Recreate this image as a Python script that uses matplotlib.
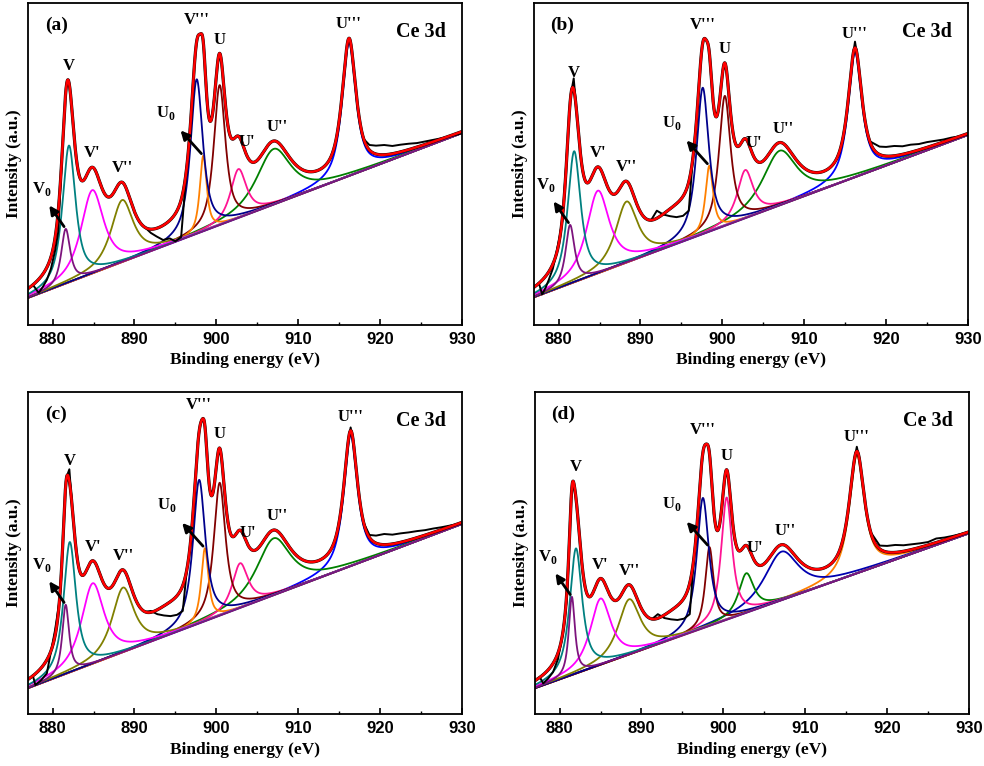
import numpy as np
import matplotlib
matplotlib.use("Agg")
import matplotlib.pyplot as plt

plt.rcParams['mathtext.fontset'] = 'custom'
plt.rcParams['mathtext.rm'] = 'Liberation Serif:bold'
plt.rcParams['mathtext.bf'] = 'Liberation Serif:bold'

# peak names, same order in every panel
names = ["V$_{\\mathrm{0}}$", "V", "V'", "V''", "V'''", "U$_{\\mathrm{0}}$", "U", "U'", "U''", "U'''"]

# fitted components: centre (eV), height above background, FWHM (eV), lorentz fraction
# extra_*: intensity of the fit envelope between V'' and V''' not covered by the drawn components
centers_a = [881.6, 882.0, 884.85, 888.5, 897.6, 898.4, 900.4, 902.7, 907.0, 916.2]
heights_a = [17.0, 42.5, 25.9, 19.3, 48.0, 23.5, 43.5, 15.2, 17.3, 41.4]
fwhm_a = [1.3, 1.9, 3.3, 3.2, 1.8, 1.0, 1.7, 2.3, 5.0, 2.0]
bg_a = [8.4, 59.6]
eta_a = 0.8
extra_a = (894.0, 1.0, 5.0)

centers_b = [881.4, 881.9, 884.8, 888.3, 897.6, 898.4, 900.3, 902.8, 907.0, 916.2]
heights_b = [18.3, 40.7, 25.7, 19.0, 45.5, 20.5, 40.4, 15.0, 17.0, 38.8]
fwhm_b = [1.3, 1.9, 3.3, 3.2, 1.8, 1.1, 1.7, 2.3, 5.0, 2.0]
bg_b = [8.6, 59.0]
eta_b = 0.85
extra_b = (894.0, 6.0, 5.5)

centers_c = [881.6, 882.1, 884.9, 888.6, 897.9, 898.6, 900.4, 902.9, 907.0, 916.4]
heights_c = [21.5, 40.5, 25.0, 20.1, 44.6, 22.7, 41.3, 13.9, 17.7, 40.7]
fwhm_c = [1.0, 1.8, 3.3, 3.2, 1.8, 1.05, 1.7, 2.3, 5.0, 2.0]
bg_c = [8.0, 59.0]
eta_c = 0.85
extra_c = (894.0, 4.0, 5.0)

centers_d = [881.5, 882.0, 885.0, 888.5, 897.5, 898.3, 900.4, 902.8, 907.1, 916.3]
heights_d = [24.3, 38.9, 20.6, 17.2, 40.5, 24.5, 38.0, 12.3, 15.1, 36.7]
fwhm_d = [0.9, 1.8, 3.0, 3.2, 1.75, 1.2, 1.6, 2.2, 5.0, 2.2]
bg_d = [8.0, 56.1]
eta_d = 0.85
extra_d = (894.0, 4.0, 5.0)

# raw spectrum where it departs from the fit: low-energy edge, valley, high-energy tail,
# and peak tips poking above the fit
raw_lo_a = ([878.3, 878.8, 879.3, 879.8, 880.3, 880.7], [10.0, 11.8, 14.0, 17.5, 23.0, 29.0])
raw_mid_a = ([892.0, 892.7, 893.5, 894.3, 895.0, 895.7], [28.6, 27.5, 26.4, 26.9, 26.0, 27.3])
raw_hi_a = ([918.7, 919.5, 920.5, 921.5, 922.5, 923.5, 924.5, 925.5, 926.5, 927.5, 928.5, 929.5, 930.0],
            [55.9, 55.7, 55.9, 55.6, 56.0, 56.3, 56.5, 57.0, 57.5, 58.0, 58.6, 59.2, 59.6])
raw_tips_a = []

raw_lo_b = ([878.0, 878.4, 878.8, 879.3, 879.7, 880.1, 880.5], [9.5, 11.5, 14.0, 17.5, 22.0, 27.0, 33.0])
raw_mid_b = ([892.0, 892.8, 893.6, 894.4, 895.2, 895.9], [35.5, 34.3, 33.8, 33.5, 33.9, 35.5])
raw_hi_b = ([919.2, 920.0, 921.0, 922.0, 923.0, 924.0, 925.0, 926.0, 927.0, 928.0, 929.0, 930.0],
            [55.4, 55.3, 55.6, 55.5, 56.0, 56.2, 56.8, 57.2, 57.6, 58.2, 58.6, 59.2])
raw_tips_b = [(881.85, 76.6), (916.2, 88.0)]

raw_lo_c = ([877.9, 878.6, 879.3, 879.7, 880.3, 880.9], [9.0, 10.5, 12.6, 18.0, 26.0, 36.0])
raw_mid_c = ([892.0, 892.8, 893.6, 894.4, 895.2, 895.9], [32.0, 31.0, 30.6, 30.4, 30.8, 32.0])
raw_hi_c = ([918.7, 919.5, 920.5, 921.5, 922.5, 923.5, 924.5, 925.5, 926.5, 927.5, 928.5, 929.5, 930.0],
            [55.6, 55.4, 55.9, 55.7, 56.1, 56.4, 56.8, 57.1, 57.6, 58.0, 58.5, 59.0, 59.3])
raw_tips_c = [(882.05, 76.0), (916.4, 89.0)]

raw_lo_d = ([878.0, 878.6, 879.2, 879.8, 880.4, 880.9], [9.5, 11.0, 13.0, 17.0, 25.0, 36.0])
raw_mid_d = ([892.0, 892.8, 893.6, 894.4, 895.2, 895.9], [31.0, 29.8, 29.4, 29.2, 29.6, 31.0])
raw_hi_d = ([919.1, 920.0, 921.0, 922.0, 923.0, 924.0, 925.0, 926.0, 927.0, 928.0, 929.0, 930.0],
            [52.3, 52.2, 52.5, 52.4, 52.7, 53.0, 53.4, 54.5, 54.8, 55.3, 55.9, 56.6])
raw_tips_d = [(916.3, 83.0)]

colors_abc = ['#7d147d', '#008080', '#ff00ff', '#808000', '#00008b',
              '#ff8000', '#800000', '#ff1493', '#008000', '#0000ff']
colors_d = ['#7d147d', '#008080', '#ff00ff', '#808000', '#00008b',
            '#800000', '#ff1493', '#008000', '#0000b0', '#ff8000']

panels = [
    ("(a)", centers_a, heights_a, fwhm_a, bg_a, eta_a, extra_a,
     [raw_lo_a, raw_mid_a, raw_hi_a], raw_tips_a, colors_abc),
    ("(b)", centers_b, heights_b, fwhm_b, bg_b, eta_b, extra_b,
     [raw_lo_b, raw_mid_b, raw_hi_b], raw_tips_b, colors_abc),
    ("(c)", centers_c, heights_c, fwhm_c, bg_c, eta_c, extra_c,
     [raw_lo_c, raw_mid_c, raw_hi_c], raw_tips_c, colors_abc),
    ("(d)", centers_d, heights_d, fwhm_d, bg_d, eta_d, extra_d,
     [raw_lo_d, raw_mid_d, raw_hi_d], raw_tips_d, colors_d),
]

E0, E1 = 877, 930


def pseudo_voigt(x, c, h, w, eta):
    d = (x - c) / w
    return h * (eta / (1 + 4 * d ** 2) + (1 - eta) * np.exp(-4 * np.log(2) * d ** 2))


def background(x, bg):
    return bg[0] + (bg[1] - bg[0]) * (x - E0) / (E1 - E0)


serif = 'Liberation Serif'
sans = 'Liberation Sans'

fig = plt.figure(figsize=(9.84, 7.66), dpi=100)
rects = [
    [28 / 984, 1 - 325 / 766, 434 / 984, 322 / 766],
    [534 / 984, 1 - 325 / 766, 434 / 984, 322 / 766],
    [28 / 984, 1 - 714 / 766, 434 / 984, 322 / 766],
    [535 / 984, 1 - 714 / 766, 434 / 984, 322 / 766],
]

x = np.linspace(E0, E1, 2651)

for rect, (tag, cen, hgt, fw, bg, eta, extra, raw, tips, cols) in zip(rects, panels):
    ax = fig.add_axes(rect)
    base = background(x, bg)
    comps = [pseudo_voigt(x, c, h, w, eta) for c, h, w in zip(cen, hgt, fw)]
    env = base + np.sum(comps, axis=0) + pseudo_voigt(x, extra[0], extra[1], extra[2], 0.0)

    def env_at(e):
        return np.interp(e, x, env)

    def env_top(e):
        m = np.abs(x - e) < 0.6
        return env[m].max()

    for comp, col in reversed(list(zip(comps, cols))):
        ax.plot(x, base + comp, color=col, lw=1.3)

    # raw spectrum: follows the fit, plus the parts where it departs
    ax.plot(x, env, color='black', lw=2.3)
    seg_ends = [(877.6, 881.1), (891.3, 896.4), (918.0, None)]
    for (re, ri), (s0, s1) in zip(raw, seg_ends):
        ex = [s0] + list(re)
        ey = [env_at(s0)] + list(ri)
        if s1 is not None:
            ex.append(s1)
            ey.append(env_at(s1))
        ax.plot(ex, ey, color='black', lw=1.4)
    for te, ti in tips:
        ax.plot([te - 0.3, te, te + 0.3], [env_at(te - 0.3), ti, env_at(te + 0.3)],
                color='black', lw=1.4)

    ax.plot(x, env, color='#ff0000', lw=1.8)

    # peak labels
    lab_kw = dict(fontfamily=serif, fontweight='bold', fontsize=12, ha='center', va='bottom')
    for i in [1, 2, 3, 4, 6, 9]:
        ax.text(cen[i], env_top(cen[i]) + 1.8, names[i], **lab_kw)
    ax.text(cen[7] + 1.0, env_at(cen[7] + 1.0) + 1.5, names[7], **lab_kw)
    ax.text(cen[8] + 0.4, env_top(cen[8] + 0.4) + 1.8, names[8], **lab_kw)

    # arrows for V0 and U0
    for i, dx, dy, lx, ly in [(0, -2.2, 8.0, -0.7, 1.5), (5, -3.0, 8.5, -1.6, 2.0)]:
        top = background(cen[i], bg) + hgt[i]
        head = (cen[i] + dx, top + dy)
        ax.annotate('', xy=head, xytext=(cen[i], top),
                    arrowprops=dict(arrowstyle='-|>', color='black', lw=2.0, mutation_scale=13))
        ax.text(head[0] + lx, head[1] + ly, names[i], **lab_kw)

    ax.text(0.065, 0.93, tag, transform=ax.transAxes, fontfamily=serif, fontweight='bold',
            fontsize=14, ha='center', va='center')
    ax.text(0.905, 0.91, "Ce 3d", transform=ax.transAxes, fontfamily=serif, fontweight='bold',
            fontsize=14.5, ha='center', va='center')

    ax.set_xlim(E0, E1)
    ax.set_ylim(0, 100)
    ax.set_xticks([880, 890, 900, 910, 920, 930])
    ax.set_xticks(np.arange(885, 930, 10), minor=True)
    ax.set_yticks([])
    ax.tick_params(axis='x', which='major', direction='in', length=4.5, width=1.2,
                   labelsize=12, pad=5, top=False)
    ax.tick_params(axis='x', which='minor', direction='in', length=2.5, width=1.0, top=False)
    for lbl in ax.get_xticklabels():
        lbl.set_fontfamily(sans)
        lbl.set_fontweight('bold')
    for sp in ax.spines.values():
        sp.set_linewidth(1.3)
    ax.set_xlabel("Binding energy (eV)", fontfamily=serif, fontweight='bold', fontsize=12.5, labelpad=4)
    ax.set_ylabel("Intensity (a.u.)", fontfamily=serif, fontweight='bold', fontsize=12.5, labelpad=4)

fig.savefig("out.png", dpi=100)
